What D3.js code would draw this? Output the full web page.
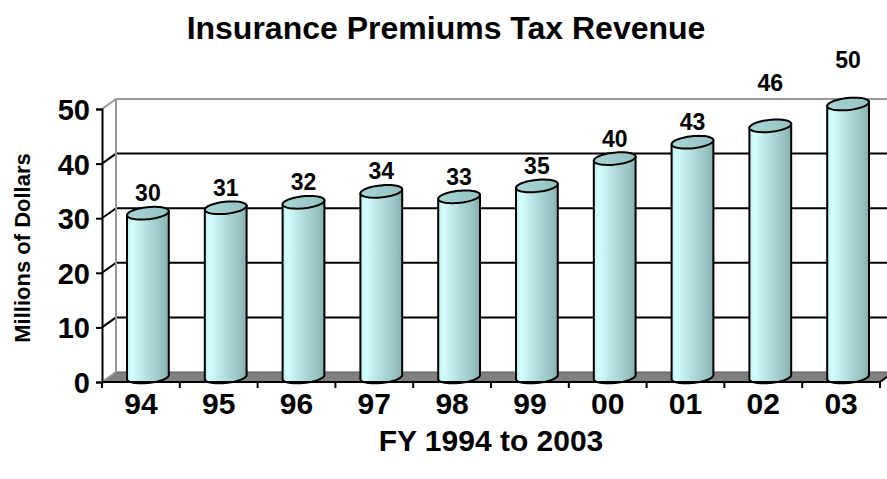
<!DOCTYPE html>
<html>
<head>
<meta charset="utf-8">
<script src="https://cdn.jsdelivr.net/npm/d3@7"></script>
<style>
  html, body { margin: 0; padding: 0; background: #fff; }
  svg { display: block; font-family: Arial, "Liberation Sans", sans-serif; font-weight: bold; }
</style>
</head>
<body>
<svg id="chart" width="887" height="479"></svg>
<script>
// Fiscal years and insurance premiums tax revenue (millions of dollars)
const categories = ["94", "95", "96", "97", "98", "99", "00", "01", "02", "03"];
const revenue = [30, 31, 32, 34, 33, 35, 40, 43, 46, 50];
const yTicks = [0, 10, 20, 30, 40, 50];

const W = 887, H = 479;
const svg = d3.select("#chart");

// Front plane of the 3-D plot box, and the offset to its back wall
const plot = { left: 102, right: 880, bottom: 382, top: 109 };
const depth = { dx: 14, dy: -10 };

const x = d3.scaleBand().domain(categories).range([plot.left, plot.right]);
const y = d3.scaleLinear().domain([0, 50]).range([plot.bottom, plot.top]);
const edge = d3.scaleLinear().domain([0, categories.length]).range([plot.left, plot.right]);

const defs = svg.append("defs");
const clip = defs.append("clipPath").attr("id", "clipAll");
clip.append("rect").attr("x", 0).attr("y", 0).attr("width", W).attr("height", H);

// Cylinder body shading: light cyan on the left, grey-teal on the right
const grad = defs.append("linearGradient").attr("id", "cyl").attr("x1", 0).attr("x2", 1).attr("y1", 0).attr("y2", 0);
[[0, "#bfeeee"], [0.12, "#d4ffff"], [0.35, "#bde9e9"], [0.6, "#a9d4d4"], [0.85, "#98c2c2"], [1, "#86aeae"]]
  .forEach(([o, c]) => grad.append("stop").attr("offset", o).attr("stop-color", c));
const gradTop = defs.append("linearGradient").attr("id", "cylTop").attr("x1", 0).attr("x2", 1).attr("y1", 0).attr("y2", 0);
[[0, "#a8d6d6"], [1, "#94c2c2"]].forEach(([o, c]) => gradTop.append("stop").attr("offset", o).attr("stop-color", c));

const g = svg.append("g").attr("clip-path", "url(#clipAll)");

// Floor
const floorPts = [
  [plot.left, plot.bottom], [plot.right, plot.bottom],
  [plot.right + depth.dx, plot.bottom + depth.dy], [plot.left + depth.dx, plot.bottom + depth.dy]
];
g.append("polygon").attr("points", floorPts.map(p => p.join(",")).join(" "))
  .attr("fill", "#808080").attr("stroke", "#555").attr("stroke-width", 1);

// Back wall grid lines
const backLeft = plot.left + depth.dx, backRight = plot.right + depth.dx;
const wallTop = y(50) + depth.dy;
yTicks.filter(v => v > 0).forEach(v => {
  const yb = y(v) + depth.dy;
  const top = v === 50;
  g.append("line").attr("x1", backLeft).attr("x2", backRight + 20)
    .attr("y1", yb).attr("y2", yb)
    .attr("stroke", top ? "#999" : "#000").attr("stroke-width", 2);
  // side-wall connector from front axis to back wall
  g.append("line").attr("x1", plot.left).attr("y1", y(v))
    .attr("x2", backLeft).attr("y2", yb)
    .attr("stroke", top ? "#999" : "#000").attr("stroke-width", 2);
});
// back wall left edge
g.append("line").attr("x1", backLeft).attr("x2", backLeft)
  .attr("y1", wallTop).attr("y2", y(0) + depth.dy)
  .attr("stroke", "#999").attr("stroke-width", 2);
// floor left edge
g.append("line").attr("x1", plot.left).attr("y1", y(0))
  .attr("x2", backLeft).attr("y2", y(0) + depth.dy)
  .attr("stroke", "#999").attr("stroke-width", 2);

// Cylinders
const rx = x.bandwidth() * 0.27, ry = 6;
const tilt = -6 * Math.PI / 180;
function ellPt(cx, cy, t) {
  const ex = rx * Math.cos(t), ey = ry * Math.sin(t);
  return [cx + ex * Math.cos(tilt) - ey * Math.sin(tilt), cy + ex * Math.sin(tilt) + ey * Math.cos(tilt)];
}
function ellipsePath(cx, cy, t0, t1, n) {
  const pts = [];
  for (let i = 0; i <= n; i++) pts.push(ellPt(cx, cy, t0 + (t1 - t0) * i / n));
  return pts;
}

const labelSize = 23;
const bars = g.selectAll("g.bar").data(revenue).join("g").attr("class", "bar");
bars.each(function (v, i) {
  const gb = d3.select(this);
  const cx = x(categories[i]) + x.bandwidth() / 2 + depth.dx / 2;
  const cyBot = y(0) + depth.dy / 2;
  const cyTop = y(v) + depth.dy / 2;
  const bottomArc = ellipsePath(cx, cyBot, 0, Math.PI, 40);
  const body = [ellPt(cx, cyTop, 0), ...bottomArc, ellPt(cx, cyTop, Math.PI)];
  gb.append("path")
    .attr("d", d3.line()(body) + "Z")
    .attr("fill", "url(#cyl)").attr("stroke", "#000").attr("stroke-width", 2)
    .attr("stroke-linejoin", "round");
  gb.append("path")
    .attr("d", d3.line()(ellipsePath(cx, cyTop, 0, 2 * Math.PI, 60)) + "Z")
    .attr("fill", "url(#cylTop)").attr("stroke", "#000").attr("stroke-width", 2);
  // value label above the cylinder; labels that would touch the wall's top border sit above it,
  // and a cylinder reaching the border pushes its label up one more line
  let base = cyTop - 12;
  if (base - labelSize * 0.72 < wallTop + 4) base = Math.min(base, wallTop - 8);
  if (cyTop - ry <= wallTop + 1) base -= labelSize;
  gb.append("text")
    .attr("x", cx).attr("y", base)
    .attr("text-anchor", "middle").attr("font-size", labelSize).attr("fill", "#000")
    .text(v);
});

// Front axes
const yAxis = d3.axisLeft(y).tickValues(yTicks).tickSize(6).tickPadding(6).tickFormat(d3.format("d"));
const ya = svg.append("g").attr("transform", `translate(${plot.left},0)`).call(yAxis);
ya.select(".domain").attr("stroke", "#000").attr("stroke-width", 2);
ya.selectAll(".tick line").attr("stroke", "#000").attr("stroke-width", 2);
ya.selectAll(".tick text").attr("font-size", 29).attr("font-family", "Arial, 'Liberation Sans', sans-serif")
  .attr("font-weight", "bold").attr("fill", "#000").attr("dy", "0.36em");

const xa = svg.append("g").attr("transform", `translate(0,${plot.bottom})`);
xa.append("line").attr("x1", plot.left).attr("x2", plot.right).attr("stroke", "#000").attr("stroke-width", 2);
xa.append("line").attr("x1", plot.right).attr("y1", 0).attr("x2", plot.right + depth.dx).attr("y2", depth.dy)
  .attr("stroke", "#000").attr("stroke-width", 2);
xa.selectAll("line.tk").data(d3.range(categories.length + 1)).join("line").attr("class", "tk")
  .attr("x1", d => edge(d)).attr("x2", d => edge(d)).attr("y1", 0).attr("y2", 6)
  .attr("stroke", "#000").attr("stroke-width", 2);
xa.selectAll("text").data(categories).join("text")
  .attr("x", d => x(d) + x.bandwidth() / 2).attr("y", 32)
  .attr("text-anchor", "middle").attr("font-size", 30).attr("fill", "#000")
  .text(d => d);

// Titles
svg.append("text").attr("x", 446).attr("y", 39).attr("text-anchor", "middle")
  .attr("font-size", 32).text("Insurance Premiums Tax Revenue");
svg.append("text").attr("x", (plot.left + plot.right) / 2).attr("y", 451).attr("text-anchor", "middle")
  .attr("font-size", 30).text("FY 1994 to 2003");
svg.append("text").attr("transform", "translate(30,248) rotate(-90)").attr("text-anchor", "middle")
  .attr("font-size", 22).text("Millions of Dollars");
</script>
</body>
</html>
